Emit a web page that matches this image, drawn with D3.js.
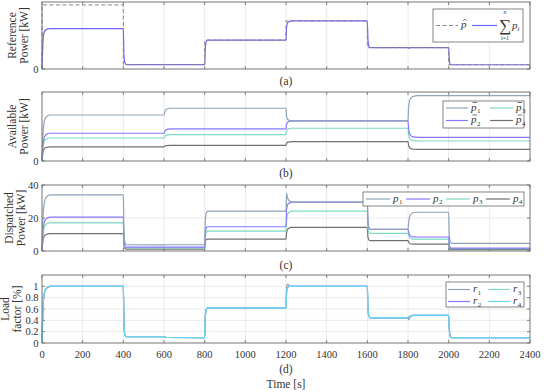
<!DOCTYPE html>
<html>
<head>
<meta charset="utf-8">
<script src="https://cdn.jsdelivr.net/npm/d3@7"></script>
<style>
  body { margin: 0; background: #fff; }
  text { font-family: "Liberation Serif", serif; fill: #333; }
</style>
</head>
<body>
<svg id="chart" width="547" height="392" font-family="Liberation Serif, serif"></svg>
<script>
// ---- data: [time s, value] ----
const timeTicks = [0, 200, 400, 600, 800, 1000, 1200, 1400, 1600, 1800, 2000, 2200, 2400];

// (a) reference and total dispatched power [kW]
const pRef = [[0,0],[0,130],[400,130],[400,9],[800,9],[800,58.5],[1200,58.5],[1200,97.7],[1600,97.7],[1600,43.3],[2000,43.3],[2000,8.6],[2400,8.6]];
const pSum = [[0,0],[4,48],[10,74],[20,80],[40,82],[400,82],[403,28],[408,12],[415,9],[800,9],[803,40],[808,56],[815,58.5],[1200,58.5],[1203,85],[1210,95],[1230,97.7],[1600,97.7],[1603,60],[1608,46],[1615,43.3],[1800,43.3],[1805,42],[1815,43.3],[2000,43.3],[2003,20],[2008,10],[2015,8.6],[2400,8.6]];

// (b) available power [kW]
const pAvail1 = [[0,0],[4,18],[10,28],[20,32.5],[40,34],[600,34],[604,36.5],[612,38.2],[630,39],[1200,39],[1203,33],[1210,30.5],[1230,29.6],[1800,29.6],[1803,40],[1810,45.5],[1825,47.8],[1850,48.3],[2400,48.3]];
const pAvail2 = [[0,0],[4,11],[10,17],[20,19.5],[40,20.5],[600,20.5],[604,22],[612,23.2],[630,23.7],[1200,23.7],[1203,27],[1210,29],[1230,29.6],[1800,29.6],[1803,24],[1810,19.5],[1825,17.8],[1850,17.5],[2400,17.5]];
const pAvail3 = [[0,0],[4,9],[10,14],[20,16.2],[40,17],[600,17],[604,18.2],[612,19.1],[630,19.5],[1200,19.5],[1203,22],[1210,23.6],[1230,24.2],[1800,24.2],[1803,19.5],[1810,16.2],[1825,15],[1850,14.8],[2400,14.8]];
const pAvail4 = [[0,0],[4,5.6],[10,8.8],[20,10],[40,10.5],[600,10.5],[604,11],[612,11.4],[630,11.6],[1200,11.6],[1203,13],[1210,13.9],[1230,14.3],[1800,14.3],[1803,11.5],[1810,9.4],[1825,8.7],[1850,8.6],[2400,8.6]];

// (c) dispatched power [kW]
const pDisp1 = [[0,0],[4,18],[10,28],[20,32.5],[40,34],[400,34],[403,12],[408,5],[415,3.8],[600,3.7],[610,3.8],[800,3.8],[803,18],[808,23],[815,24.2],[1200,24.2],[1203,35],[1208,32],[1220,30.2],[1240,29.6],[1600,29.6],[1603,18],[1608,14],[1615,13.1],[1800,13.1],[1803,17],[1810,21.5],[1825,23.2],[1850,23.5],[2000,23.5],[2003,10],[2008,5.5],[2015,4.6],[2400,4.6]];
const pDisp2 = [[0,0],[4,11],[10,17],[20,19.5],[40,20.5],[400,20.5],[403,7],[408,3],[415,2.3],[800,2.3],[803,11],[808,14],[815,14.7],[1200,14.7],[1203,25],[1210,28.5],[1230,29.6],[1600,29.6],[1603,18],[1608,14],[1615,13.1],[1800,13.1],[1803,11.5],[1810,9.3],[1825,8.6],[1850,8.5],[2000,8.5],[2003,3.5],[2008,2],[2015,1.7],[2400,1.7]];
const pDisp3 = [[0,0],[4,9],[10,14],[20,16.2],[40,17],[400,17],[403,6],[408,2.5],[415,1.9],[800,1.9],[803,9],[808,11.5],[815,12.1],[1200,12.1],[1203,19],[1210,22.8],[1230,24.2],[1600,24.2],[1603,14.5],[1608,11.4],[1615,10.7],[1800,10.7],[1803,9.5],[1810,7.8],[1825,7.2],[2000,7.2],[2003,3],[2008,1.7],[2015,1.4],[2400,1.4]];
const pDisp4 = [[0,0],[4,5.6],[10,8.8],[20,10],[40,10.5],[400,10.5],[403,3.6],[408,1.5],[415,1.15],[800,1.15],[803,5.4],[808,6.9],[815,7.2],[1200,7.2],[1203,11.3],[1210,13.5],[1230,14.3],[1600,14.3],[1603,8.6],[1608,6.7],[1615,6.3],[1800,6.3],[1803,5.4],[1810,4.4],[1825,4.2],[2000,4.2],[2003,1.8],[2008,1],[2015,0.8],[2400,0.8]];

// (d) load factor
const rLoad1 = [[0,0],[4,0.55],[10,0.85],[20,0.96],[40,1],[400,1],[403,0.35],[408,0.14],[415,0.11],[600,0.11],[610,0.097],[800,0.095],[803,0.45],[808,0.59],[815,0.62],[1200,0.62],[1203,1],[1208,1.04],[1220,1],[1600,1],[1603,0.6],[1608,0.47],[1615,0.443],[1800,0.443],[1803,0.41],[1808,0.44],[1820,0.49],[1830,0.486],[2000,0.486],[2003,0.25],[2008,0.12],[2015,0.096],[2400,0.096]];
const rLoad = [[0,0],[4,0.55],[10,0.85],[20,0.96],[40,1],[400,1],[403,0.35],[408,0.14],[415,0.11],[600,0.11],[610,0.097],[800,0.095],[803,0.45],[808,0.59],[815,0.62],[1200,0.62],[1203,0.9],[1208,0.98],[1215,1],[1600,1],[1603,0.6],[1608,0.47],[1615,0.443],[1800,0.443],[1805,0.46],[1815,0.48],[1830,0.486],[2000,0.486],[2003,0.25],[2008,0.12],[2015,0.096],[2400,0.096]];

const col1 = '#8fa3b8', col2 = '#8877ff', col3 = '#7fd9c4', col4 = '#707070', colR4 = '#6dd3f5';

// ---- layout ----
const svg = d3.select('#chart');
const x = d3.scaleLinear().domain([0, 2400]).range([42, 530]);

const panels = [
  { top: 2,   bottom: 69,  domain: [0, 136], ticks: [0], label: ['Reference', 'Power [kW]'], lx: [12, 24], tag: '(a)', tagY: 81 },
  { top: 92,  bottom: 161, domain: [0, 51],  ticks: [0], label: ['Available', 'Power [kW]'], lx: [12, 24], tag: '(b)', tagY: 173 },
  { top: 185, bottom: 251, domain: [0, 40],  ticks: [0, 20, 40], label: ['Dispatched', 'Power [kW]'], lx: [9, 21], tag: '(c)', tagY: 265 },
  { top: 275, bottom: 343, domain: [0, 1.2], ticks: [0, 0.2, 0.4, 0.6, 0.8, 1], label: ['Load', 'factor [%]'], lx: [5, 17], tag: '(d)', tagY: 369 }
];

function drawPanel(p) {
  const y = d3.scaleLinear().domain(p.domain).range([p.bottom, p.top]);
  p.y = y;
  const g = svg.append('g');

  // grid
  g.selectAll('.vg').data(timeTicks.slice(1, -1)).enter().append('line')
    .attr('x1', d => x(d)).attr('x2', d => x(d))
    .attr('y1', p.top).attr('y2', p.bottom)
    .attr('stroke', '#e4e4e4').attr('stroke-width', 0.8);
  g.selectAll('.hg').data(p.ticks.filter(t => t > 0 && y(t) > p.top + 1)).enter().append('line')
    .attr('x1', x(0)).attr('x2', x(2400))
    .attr('y1', d => y(d)).attr('y2', d => y(d))
    .attr('stroke', '#e4e4e4').attr('stroke-width', 0.8);

  // ticks (inward, both sides)
  timeTicks.forEach(t => {
    g.append('line').attr('x1', x(t)).attr('x2', x(t)).attr('y1', p.bottom).attr('y2', p.bottom - 3)
      .attr('stroke', '#666').attr('stroke-width', 0.8);
    g.append('line').attr('x1', x(t)).attr('x2', x(t)).attr('y1', p.top).attr('y2', p.top + 3)
      .attr('stroke', '#666').attr('stroke-width', 0.8);
  });
  p.ticks.forEach(t => {
    g.append('line').attr('x1', x(0)).attr('x2', x(0) + 3).attr('y1', y(t)).attr('y2', y(t))
      .attr('stroke', '#666').attr('stroke-width', 0.8);
    g.append('line').attr('x1', x(2400)).attr('x2', x(2400) - 3).attr('y1', y(t)).attr('y2', y(t))
      .attr('stroke', '#666').attr('stroke-width', 0.8);
    g.append('text').attr('x', 38.5).attr('y', y(t)).attr('dy', '0.35em')
      .attr('text-anchor', 'end').attr('font-size', 10.5).text(d3.format('~g')(t));
  });

  // y label (two lines)
  const cy = (p.top + p.bottom) / 2;
  p.label.forEach((s, k) => {
    g.append('text')
      .attr('transform', `translate(${p.lx[k]},${cy}) rotate(-90)`)
      .attr('text-anchor', 'middle').attr('dominant-baseline', 'central')
      .attr('font-size', 11.5).text(s);
  });

  // panel tag
  g.append('text').attr('x', 286).attr('y', p.tagY).attr('dy', '0.35em')
    .attr('text-anchor', 'middle').attr('font-size', 11.5).text(p.tag);

  p.g = g;
}

panels.forEach(drawPanel);

function addLine(p, data, color, opts = {}) {
  const line = d3.line()
    .x(d => x(d[0])).y(d => p.y(d[1]))
    .curve(opts.linear ? d3.curveLinear : d3.curveMonotoneX);
  p.g.append('path').datum(data)
    .attr('d', line)
    .attr('fill', 'none')
    .attr('stroke', color)
    .attr('stroke-width', opts.width || 1.2)
    .attr('stroke-dasharray', opts.dash || null);
}

// (a)
addLine(panels[0], pSum, '#6f63ff');
addLine(panels[0], pRef, '#888', { linear: true, dash: '4,2.5', width: 1 });
// (b)
addLine(panels[1], pAvail4, col4);
addLine(panels[1], pAvail3, col3);
addLine(panels[1], pAvail2, col2);
addLine(panels[1], pAvail1, col1);
// (c)
addLine(panels[2], pDisp4, col4);
addLine(panels[2], pDisp3, col3);
addLine(panels[2], pDisp2, col2);
addLine(panels[2], pDisp1, col1);
// (d)
addLine(panels[3], rLoad1, col1);
addLine(panels[3], rLoad, col2);
addLine(panels[3], rLoad, col3);
addLine(panels[3], rLoad, colR4);

// frames on top
panels.forEach(p => {
  p.g.append('rect').attr('x', x(0)).attr('y', p.top)
    .attr('width', x(2400) - x(0)).attr('height', p.bottom - p.top)
    .attr('fill', 'none').attr('stroke', '#666').attr('stroke-width', 0.9);
});

// x tick labels and axis title
svg.selectAll('.xl').data(timeTicks).enter().append('text')
  .attr('x', d => x(d)).attr('y', 354).attr('dy', '0.35em')
  .attr('text-anchor', 'middle').attr('font-size', 10.5).text(d => d);
svg.append('text').attr('x', 286).attr('y', 384).attr('dy', '0.35em')
  .attr('text-anchor', 'middle').attr('font-size', 11.5).text('Time [s]');

// ---- legends ----
function legendBox(g, x0, y0, w, h) {
  g.append('rect').attr('x', x0).attr('y', y0).attr('width', w).attr('height', h)
    .attr('fill', '#fff').attr('stroke', '#666').attr('stroke-width', 0.8);
}
// mark: null, 'bar' or 'hat' drawn over the symbol
function legendItem(g, x0, yc, len, color, name, sub, opts = {}) {
  g.append('line').attr('x1', x0).attr('x2', x0 + len).attr('y1', yc).attr('y2', yc)
    .attr('stroke', color).attr('stroke-width', 1.2).attr('stroke-dasharray', opts.dash || null);
  const tx = x0 + len + 3;
  const t = g.append('text').attr('x', tx).attr('y', yc).attr('dy', '0.25em')
    .attr('font-size', 11).attr('font-style', 'italic');
  t.append('tspan').text(name);
  if (sub) t.append('tspan').attr('font-size', 7).attr('font-style', 'normal').attr('dy', 2.5).attr('dx', 0.5).text(sub);
  if (opts.mark === 'bar') {
    g.append('line').attr('x1', tx + 1.5).attr('x2', tx + 6).attr('y1', yc - 5.5).attr('y2', yc - 5.5)
      .attr('stroke', '#333').attr('stroke-width', 0.7);
  } else if (opts.mark === 'hat') {
    g.append('path').attr('d', `M${tx + 2},${yc - 4.5}L${tx + 3.8},${yc - 6.5}L${tx + 5.6},${yc - 4.5}`)
      .attr('fill', 'none').attr('stroke', '#333').attr('stroke-width', 0.6);
  }
}

// (a)
{
  const g = panels[0].g;
  legendBox(g, 433, 9, 90, 33);
  legendItem(g, 436, 25.5, 22, '#888', 'p', null, { dash: '4,2.5', mark: 'hat' });
  g.append('line').attr('x1', 472).attr('x2', 497).attr('y1', 25.5).attr('y2', 25.5)
    .attr('stroke', '#6f63ff').attr('stroke-width', 1.2);
  g.append('text').attr('x', 505).attr('y', 25.5).attr('dy', '0.35em')
    .attr('text-anchor', 'middle').attr('font-size', 17).text('\u2211');
  g.append('text').attr('x', 505).attr('y', 14).attr('text-anchor', 'middle')
    .attr('font-size', 6).attr('font-style', 'italic').text('n');
  g.append('text').attr('x', 505).attr('y', 40).attr('text-anchor', 'middle')
    .attr('font-size', 6).text('i=1');
  const t = g.append('text').attr('x', 512).attr('y', 25.5).attr('dy', '0.3em')
    .attr('font-size', 11).attr('font-style', 'italic');
  t.append('tspan').text('p');
  t.append('tspan').attr('font-size', 7).attr('dy', 2.5).text('i');
}
// (b)
{
  const g = panels[1].g;
  legendBox(g, 443, 101, 81, 27);
  legendItem(g, 446, 108, 22, col1, 'p', '1', { mark: 'bar' });
  legendItem(g, 490, 108, 23, col3, 'p', '3', { mark: 'bar' });
  legendItem(g, 446, 120.5, 22, col2, 'p', '2', { mark: 'bar' });
  legendItem(g, 490, 120.5, 23, col4, 'p', '4', { mark: 'bar' });
}
// (c)
{
  const g = panels[2].g;
  legendBox(g, 363, 192, 161, 14);
  legendItem(g, 366, 199, 24, col1, 'p', '1');
  legendItem(g, 406, 199, 24, col2, 'p', '2');
  legendItem(g, 446, 199, 24, col3, 'p', '3');
  legendItem(g, 486, 199, 24, col4, 'p', '4');
}
// (d)
{
  const g = panels[3].g;
  legendBox(g, 446, 282, 78, 25);
  legendItem(g, 448, 289.5, 22, col1, 'r', '1');
  legendItem(g, 488, 289.5, 22, col3, 'r', '3');
  legendItem(g, 448, 301.5, 22, col2, 'r', '2');
  legendItem(g, 488, 301.5, 22, colR4, 'r', '4');
}
</script>
</body>
</html>
